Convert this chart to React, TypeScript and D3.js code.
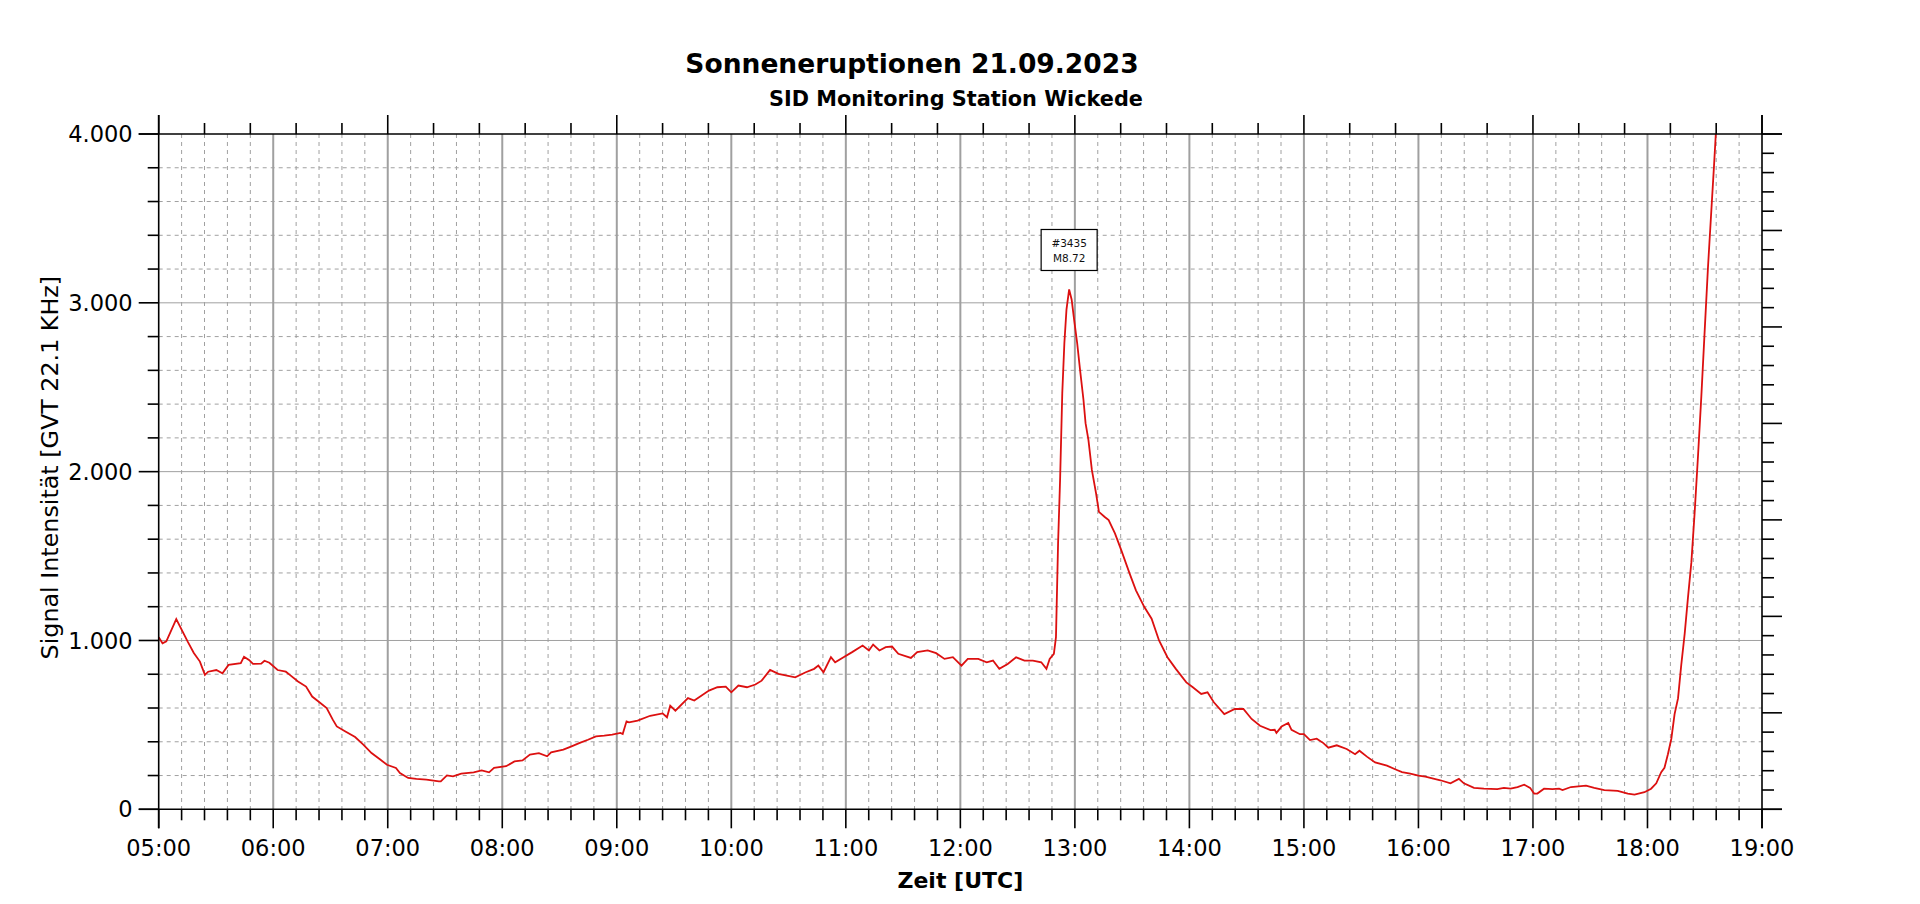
import React from 'react';
import * as d3 from 'd3';

// minutes after 05:00 UTC, 21.09.2023
const minutes = [
  0, 2, 4, 9.2, 15.2, 18.4, 21.6, 24.2, 25.9, 30.2, 33.4, 36.6, 43, 44.7, 47.3, 49.4, 53.7, 55.4, 58,
  62.3, 66.6, 68.7, 73, 77.2, 80.4, 83.7, 88, 91.2, 93.3, 97.6, 102.9, 107.2, 111.5, 115.7, 119.6,
  124.3, 126.4, 130.7, 135, 140.3, 146.8, 147.8, 151, 154.2, 158.5, 165, 169.2, 173.1, 175.7, 182,
  186.4, 190.6, 194.5, 199.2, 203.5, 205.6, 212, 216.3, 220.6, 224.9, 229.1, 233.4, 237.6, 241.9,
  243.1, 245.1, 246.4, 250.9, 257.5, 264, 266.3, 268, 270.7, 277.3, 280.6, 288.3, 292.7, 297.1, 300,
  303.7, 308.2, 312.6, 315.9, 320.3, 324.7, 329.1, 333.5, 339, 343.4, 345.6, 348.3, 352.2, 354.4,
  358.8, 363.3, 368.8, 372.1, 374.3, 377.6, 380.9, 384.2, 387.5, 394.1, 397.4, 402.9, 407.3, 411.7,
  416.1, 420.6, 423.9, 429.4, 433.8, 437.1, 440.4, 444.8, 449.2, 453.6, 458, 462.4, 465.1, 466.8,
  469, 470.1, 471.2, 472.3, 473.4, 474.5, 475.6, 477, 478.3, 479.6, 481.2, 482.7, 484.5, 485.6,
  487.1, 488.9, 491.1, 492.6, 495.5, 497.7, 501, 504.3, 508.7, 512, 516.4, 520.2, 524.1, 528.5,
  532.9, 538.4, 541.8, 546.2, 549.5, 552.8, 558.3, 563.8, 568.3, 572.6, 577, 582.5, 584.7, 585.6,
  588.3, 591.8, 593.5, 597.9, 600, 603.2, 606.7, 610.2, 612.8, 617.2, 622.4, 626.8, 629.1, 633,
  637.3, 643.5, 648.7, 651.4, 655.7, 660, 663.6, 671.5, 676.8, 681.2, 683.8, 689.1, 694.3, 701.3,
  704.8, 708.3, 711.9, 715.4, 718.5, 720.6, 722.3, 725.8, 730.2, 733.7, 735.5, 739.9, 747.8, 752.1,
  757.4, 764.4, 769.7, 773.2, 778.4, 781.9, 784.6, 787.2, 788.9, 790.7, 792.5, 794.2, 796, 797.7,
  799.5, 801.2, 803, 804.7, 806.5, 808.2, 810, 811.7, 813.5, 814.9, 815.8, 817
];

const signal = [
  1019, 983, 995, 1127, 993, 926, 875, 796, 815, 825, 806, 855, 865, 904, 885, 861, 863, 880, 868,
  825, 815, 796, 757, 727, 668, 639, 600, 531, 491, 462, 428, 383, 333, 298, 264,
  245, 215, 186, 180, 176, 166, 166, 201, 195, 211, 219, 230, 219, 245, 255,
  284, 290, 324, 333, 314, 337, 353, 373, 393, 412, 432, 436, 442, 452,
  446, 521, 515, 525, 554, 568, 545, 614, 584, 659, 644, 703, 723, 727, 693,
  733, 723, 739, 762, 826, 802, 792, 782, 812, 832, 851, 812, 901, 871,
  901, 931, 970, 941, 976, 941, 960, 964, 921, 897, 931, 941, 925, 891,
  901, 851, 891, 891, 871, 881, 832, 861, 901, 881, 881, 871, 832, 891,
  921, 1020, 1574, 1970, 2465, 2762, 2960, 3079, 3020, 2901, 2762, 2604, 2426, 2287,
  2188, 2010, 1871, 1762, 1733, 1713, 1634, 1535, 1396, 1297, 1198, 1129, 1000, 901,
  832, 752, 723, 683, 693, 634, 564, 594, 594, 535, 495, 469, 471, 453,
  490, 511, 471, 445, 445, 410, 418, 392, 365, 379, 357, 326, 347, 312,
  278, 259, 233, 220, 212, 199, 193, 172, 154, 180, 154, 127, 122, 119,
  127, 122, 132, 146, 127, 93, 93, 122, 119, 122, 114, 132, 140, 127,
  114, 109, 93, 87, 101, 122, 154, 220, 246, 326, 418, 564, 657, 855,
  1040, 1252, 1464, 1755, 2099, 2443, 2841, 3211, 3555, 3820, 4000, 4250
];

const flareId = '#3435';
const flareClass = 'M8.72';
const title = 'Sonneneruptionen 21.09.2023';
const subtitle = 'SID Monitoring Station Wickede';
const xLabel = 'Zeit [UTC]';
const yLabel = 'Signal Intensität [GVT 22.1 KHz]';

const START = Date.UTC(2023, 8, 21, 5, 0, 0);
const END = Date.UTC(2023, 8, 21, 19, 0, 0);

const W = 1920;
const H = 904;
const margin = { top: 134, right: 158, bottom: 94.7, left: 158.7 };
const font = '"DejaVu Sans", Verdana, sans-serif';
const grid = '#a0a0a0';

const de = d3.formatLocale({ decimal: ',', thousands: '.', grouping: [3], currency: ['', ' €'] });
const fmtY = de.format(',');
const fmtX = d3.utcFormat('%H:%M');

export default function App() {
  const x = d3.scaleUtc().domain([new Date(START), new Date(END)]).range([margin.left, W - margin.right]);
  const y = d3.scaleLinear().domain([0, 4000]).range([H - margin.bottom, margin.top]);
  const yRight = d3.scaleLinear().domain([0, 35]).range([H - margin.bottom, margin.top]);

  const [x0, x1] = x.range();
  const [y0, y1] = y.range();

  const data = minutes.map((m, i) => ({ t: new Date(START + m * 60000), v: signal[i] }));
  const line = d3.line<{ t: Date; v: number }>().x((d) => x(d.t)).y((d) => y(d.v));

  const at = (m: number) => new Date(START + m * 60000);
  const xTicks12 = d3.range(0, 14 * 60 + 1, 12);
  const xTicks24 = d3.range(0, 14 * 60 + 1, 24);
  const yTicks = d3.range(0, 4001, 200);
  const rTicks = d3.range(0, 36);

  // flare peak (ignore the evening rise at the end)
  const peak = data[d3.maxIndex(data.slice(0, 200), (d) => d.v)];
  const px = x(peak.t);
  const py = y(peak.v);
  const boxW = 56;
  const boxH = 41;
  const boxY = py - 19 - boxH;

  return (
    <svg width={W} height={H} style={{ position: 'absolute', left: 0, top: 0, background: '#fff' }}>
      <defs>
        <clipPath id="plot">
          <rect x={x0} y={y1} width={x1 - x0} height={y0 - y1} />
        </clipPath>
      </defs>

      {/* grid */}
      {yTicks.filter((v) => v > 0 && v < 4000).map((v) => (
        <line key={'gy' + v} x1={x0} x2={x1} y1={y(v)} y2={y(v)} stroke={grid}
          strokeWidth={1} strokeDasharray={v % 1000 === 0 ? undefined : '4,4'} />
      ))}
      {xTicks12.filter((m) => m > 0 && m < 840).map((m) => (
        <line key={'gx' + m} x1={x(at(m))} x2={x(at(m))} y1={y1} y2={y0} stroke={grid}
          strokeWidth={m % 60 === 0 ? 2 : 1} strokeDasharray={m % 60 === 0 ? undefined : '4,4'} />
      ))}

      {/* signal */}
      <path d={line(data) ?? ''} fill="none" stroke="#dc1010" strokeWidth={1.8} clipPath="url(#plot)" />

      {/* frame */}
      <g stroke="#000" strokeWidth={1.6}>
        <line x1={x0 - 20} x2={x1 + 20} y1={y0} y2={y0} />
        <line x1={x0 - 20} x2={x1 + 20} y1={y1} y2={y1} />
        <line x1={x0} x2={x0} y1={y1 - 19} y2={y0 + 19} />
        <line x1={x1} x2={x1} y1={y1 - 19} y2={y0 + 19} />
        {xTicks12.map((m) => (
          <line key={'bt' + m} x1={x(at(m))} x2={x(at(m))} y1={y0} y2={y0 + (m % 60 === 0 ? 19 : 11)} />
        ))}
        {xTicks24.map((m) => (
          <line key={'tt' + m} x1={x(at(m))} x2={x(at(m))} y1={y1} y2={y1 - (m % 120 === 0 ? 19 : 11)} />
        ))}
        {yTicks.map((v) => (
          <line key={'lt' + v} x1={x0} x2={x0 - (v % 1000 === 0 ? 20 : 11)} y1={y(v)} y2={y(v)} />
        ))}
        {rTicks.map((r) => (
          <line key={'rt' + r} x1={x1} x2={x1 + (r % 5 === 0 ? 20 : 12)} y1={yRight(r)} y2={yRight(r)} />
        ))}
      </g>

      {/* tick labels */}
      <g fontFamily={font} fontSize={22.5} fill="#000">
        {xTicks12.filter((m) => m % 60 === 0).map((m) => (
          <text key={'xl' + m} x={x(at(m))} y={856} textAnchor="middle">{fmtX(at(m))}</text>
        ))}
        {yTicks.filter((v) => v % 1000 === 0).map((v) => (
          <text key={'yl' + v} x={x0 - 26} y={y(v)} dy="0.36em" textAnchor="end">{fmtY(v)}</text>
        ))}
      </g>

      {/* titles */}
      <text x={912} y={73} textAnchor="middle" fontFamily={font} fontWeight="bold" fontSize={26.5}>{title}</text>
      <text x={956} y={106} textAnchor="middle" fontFamily={font} fontWeight="bold" fontSize={20.8}>{subtitle}</text>
      <text x={(x0 + x1) / 2} y={888} textAnchor="middle" fontFamily={font} fontWeight="bold" fontSize={22}>{xLabel}</text>
      <text transform={`translate(58,${(y0 + y1) / 2 - 4}) rotate(-90)`} textAnchor="middle" fontFamily={font} fontSize={23.8}>{yLabel}</text>

      {/* flare annotation */}
      <rect x={px - boxW / 2} y={boxY} width={boxW} height={boxH} fill="#fff" stroke="#000" strokeWidth={1.2} />
      <g fontFamily={font} fontSize={10.5} fill="#111" textAnchor="middle">
        <text x={px} y={boxY + 18}>{flareId}</text>
        <text x={px} y={boxY + 33}>{flareClass}</text>
      </g>
    </svg>
  );
}
